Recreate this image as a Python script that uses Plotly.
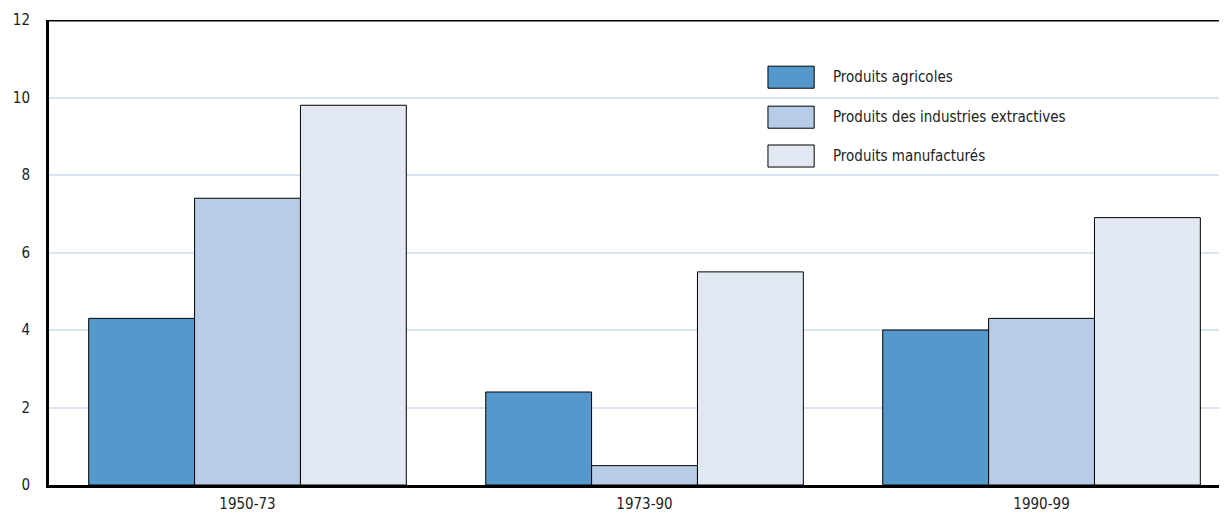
import plotly.graph_objects as go

periods = ["1950-73", "1973-90", "1990-99"]
series_names = ["Produits agricoles", "Produits des industries extractives", "Produits manufacturés"]
agricoles = [4.3, 2.4, 4.0]
extractives = [7.4, 0.5, 4.3]
manufactures = [9.8, 5.5, 6.9]
y_ticks = [0, 2, 4, 6, 8, 10, 12]

colors = ["#5599CC", "#B7CCE6", "#E1E8F2"]
FONT = "DejaVu Sans Condensed, Liberation Sans Narrow, sans-serif"

fig = go.Figure()
for name, vals, col in zip(series_names, [agricoles, extractives, manufactures], colors):
    fig.add_trace(go.Bar(x=periods, y=vals, name=name, marker_color=col,
                         marker_line_color="black", marker_line_width=1,
                         showlegend=False))

# hand-drawn legend (boxes + labels)
leg_y = [0.877, 0.791, 0.7075]
for name, col, yy in zip(series_names, colors, leg_y):
    fig.add_shape(type="rect", xref="paper", yref="paper",
                  x0=0.6145, x1=0.654, y0=yy - 0.0237, y1=yy + 0.0237,
                  fillcolor=col, line=dict(color="black", width=1))
    fig.add_annotation(xref="paper", yref="paper", x=0.668, y=yy, text=name,
                       showarrow=False, xanchor="left", yanchor="middle",
                       font=dict(family=FONT, size=15, color="#222"))

# top frame line
fig.add_shape(type="line", xref="paper", yref="y", x0=0, x1=1, y0=12, y1=12,
              line=dict(color="black", width=3))

# page body adds 8px around the figure, so size/margins are trimmed to match
fig.update_layout(
    width=1211, height=507,
    margin=dict(l=41, r=0, t=12, b=30, autoexpand=False),
    paper_bgcolor="white", plot_bgcolor="white",
    barmode="group", bargap=0.2, bargroupgap=0,
    font=dict(family=FONT, size=15, color="#222"),
)
fig.update_xaxes(range=[-0.5, 2.447], showline=True, linecolor="black", linewidth=3,
                 ticks="", showgrid=False, tickfont=dict(size=15), automargin=False,
                 ticklabelstandoff=3)
fig.update_yaxes(range=[0, 12], tickvals=y_ticks, showline=True, linecolor="black",
                 linewidth=3, showgrid=True, gridcolor="#DAE4F1", gridwidth=2,
                 zeroline=False, ticks="", ticklabelstandoff=13, tickfont=dict(size=15),
                 automargin=False)

fig.write_html("out.html")
